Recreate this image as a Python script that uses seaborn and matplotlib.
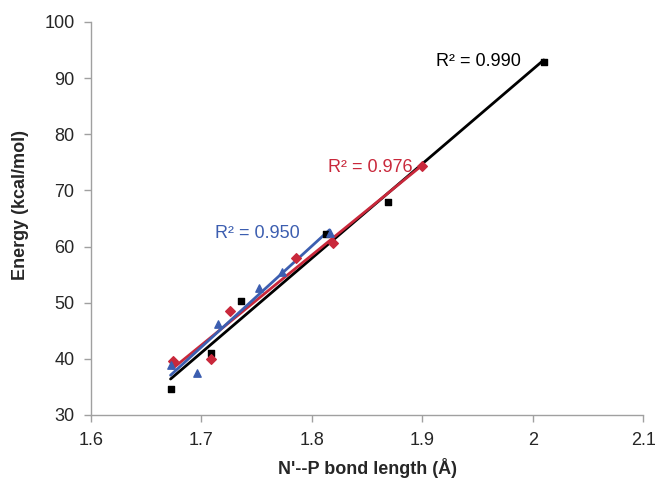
import matplotlib
matplotlib.use("Agg")
import matplotlib.pyplot as plt
import seaborn as sns

# bond length (Å) vs energy (kcal/mol), three series
black_x = [1.672, 1.709, 1.736, 1.813, 1.869, 2.010]
black_y = [34.6, 41.1, 50.3, 62.3, 68.0, 92.8]
red_x = [1.674, 1.709, 1.726, 1.786, 1.819, 1.900]
red_y = [39.7, 39.9, 48.5, 57.9, 60.7, 74.4]
blue_x = [1.672, 1.696, 1.715, 1.752, 1.773, 1.816]
blue_y = [38.9, 37.4, 46.2, 52.6, 55.4, 62.5]
r2_labels = ["R² = 0.990", "R² = 0.976", "R² = 0.950"]
x_ticks = [1.6, 1.7, 1.8, 1.9, 2.0, 2.1]
x_tick_labels = ["1.6", "1.7", "1.8", "1.9", "2", "2.1"]
y_ticks = [30, 40, 50, 60, 70, 80, 90, 100]

sns.set_style("white")
plt.rcParams['font.family'] = ['Liberation Sans', 'DejaVu Sans']

black = "#000000"
red = "#c9283b"
blue = "#3c5eb0"
fs = 13

fig, ax = plt.subplots(figsize=(6.55, 4.83), dpi=100)
fig.subplots_adjust(left=0.139, right=0.982, top=0.9545, bottom=0.1408)

sns.regplot(x=black_x, y=black_y, ax=ax, ci=None, marker="s", color=black,
            scatter_kws={"s": 22, "zorder": 3, "alpha": 1}, line_kws={"lw": 2})
sns.regplot(x=red_x, y=red_y, ax=ax, ci=None, marker="D", color=red,
            scatter_kws={"s": 24, "zorder": 3, "alpha": 1}, line_kws={"lw": 2})
sns.regplot(x=blue_x, y=blue_y, ax=ax, ci=None, marker="^", color=blue,
            scatter_kws={"s": 28, "zorder": 3, "alpha": 1}, line_kws={"lw": 2})

ax.text(1.912, 92.9, r2_labels[0], color=black, fontsize=fs, ha="left", va="center")
ax.text(1.815, 74.0, r2_labels[1], color=red, fontsize=fs, ha="left", va="center")
ax.text(1.712, 62.4, r2_labels[2], color=blue, fontsize=fs, ha="left", va="center")

ax.set_xlim(1.6, 2.1)
ax.set_ylim(30, 100)
ax.set_xticks(x_ticks)
ax.set_xticklabels(x_tick_labels)
ax.set_yticks(y_ticks)
ax.tick_params(axis="both", labelsize=fs, direction="out", length=5,
               color="#a0a0a0", width=1, pad=7, bottom=True, left=True)
for side in ["top", "right"]:
    ax.spines[side].set_visible(False)
for side in ["left", "bottom"]:
    ax.spines[side].set_color("#a0a0a0")
    ax.spines[side].set_linewidth(1)

ax.set_xlabel("N'--P bond length (Å)", fontsize=fs, fontweight="bold", labelpad=7)
ax.set_ylabel("Energy (kcal/mol)", fontsize=fs, fontweight="bold")
ax.yaxis.set_label_coords(-0.112, 0.535)

plt.savefig("out.png", dpi=100)
